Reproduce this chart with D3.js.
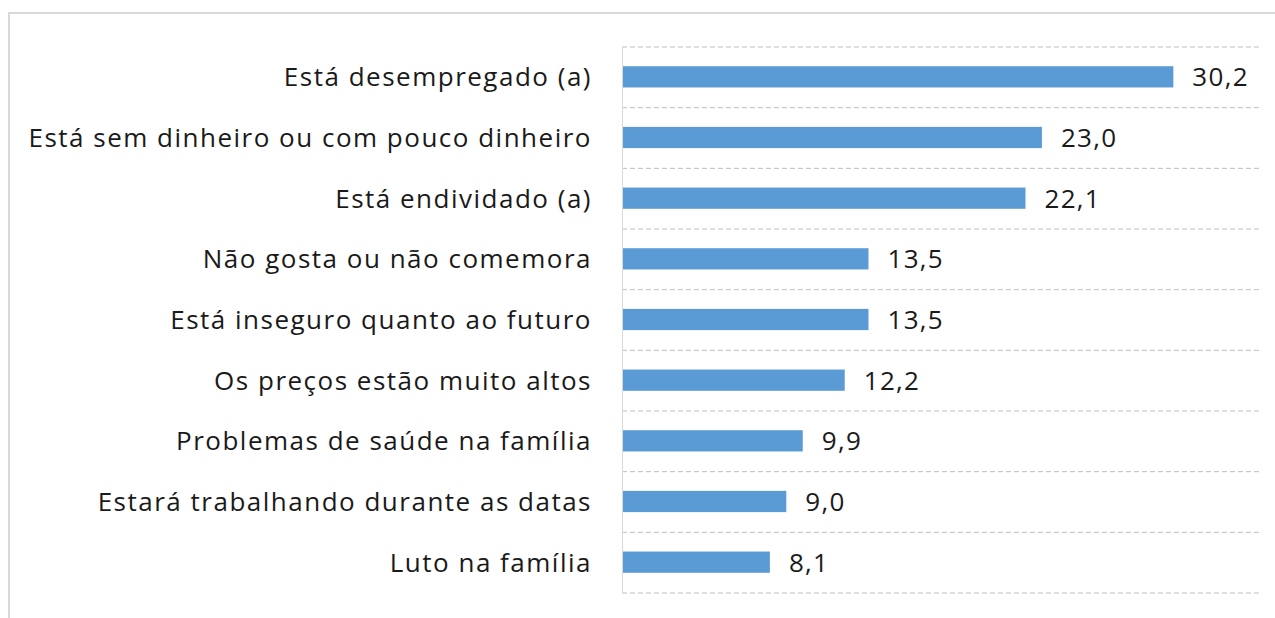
<html>
<head>
  <title></title>
  <style>
    body { margin: 0; background: #fff; }
    text { font-family: 'Open Sans', 'Noto Sans', sans-serif; fill: #1a1a1a; letter-spacing: 1.5px; }
  </style>
</head>
<body>
<script src='https://cdn.jsdelivr.net/npm/d3@7/dist/d3.min.js'></script>
<script>
var categories = ['Está desempregado (a)', 'Está sem dinheiro ou com pouco dinheiro', 'Está endividado (a)',
  'Não gosta ou não comemora', 'Está inseguro quanto ao futuro', 'Os preços estão muito altos',
  'Problemas de saúde na família', 'Estará trabalhando durante as datas', 'Luto na família']
var values = [30.2, 23.0, 22.1, 13.5, 13.5, 12.2, 9.9, 9.0, 8.1]

var width = 1275
var height = 618
var padding = {top: 46.5, right: 14, bottom: 25.5, left: 622}

var svg = d3.select('body')
  .append('svg')
  .attr('width', width)
  .attr('height', height)

// chart frame
svg.append('rect')
  .attr('x', 9).attr('y', 13)
  .attr('width', width).attr('height', height)
  .attr('fill', 'none')
  .attr('stroke', '#d9d9d9')
  .attr('stroke-width', 2)

var xScale = d3.scaleLinear()
  .domain([0, 35])
  .range([padding.left, width - padding.right])

var yScale = d3.scaleBand()
  .domain(categories)
  .range([padding.top, height - padding.bottom])
  .paddingInner(0.65)
  .paddingOuter(0.325)

var step = yScale.step()

// dashed gridlines at band boundaries
svg.selectAll('line.grid')
  .data(d3.range(categories.length + 1))
  .enter()
  .append('line')
  .attr('class', 'grid')
  .attr('x1', xScale(0))
  .attr('x2', xScale(35))
  .attr('y1', function(i) { return padding.top + i * step + 0.5 })
  .attr('y2', function(i) { return padding.top + i * step + 0.5 })
  .attr('stroke', '#bfbfbf')
  .attr('stroke-width', 1)
  .attr('stroke-dasharray', '5,3')

// vertical axis line
svg.append('line')
  .attr('x1', xScale(0) + 0.5).attr('x2', xScale(0) + 0.5)
  .attr('y1', padding.top).attr('y2', height - padding.bottom + 1)
  .attr('stroke', '#d9d9d9')
  .attr('stroke-width', 1)

svg.selectAll('rect.bar')
  .data(values)
  .enter()
  .append('rect')
  .attr('class', 'bar')
  .attr('x', xScale(0) + 1)
  .attr('y', function(d, i) { return yScale(categories[i]) })
  .attr('width', function(d) { return xScale(d) - xScale(0) - 1 })
  .attr('height', yScale.bandwidth())
  .attr('fill', '#5b9bd5')

svg.selectAll('text.val')
  .data(values)
  .enter()
  .append('text')
  .attr('class', 'val')
  .attr('x', function(d) { return xScale(d) + 19 })
  .attr('y', function(d, i) { return yScale(categories[i]) + yScale.bandwidth() / 2 })
  .attr('dy', '0.36em')
  .style('font-size', '26px')
  .style('letter-spacing', '1.3px')
  .text(function(d) { return d.toFixed(1).replace('.', ',') })

svg.selectAll('text.cat')
  .data(categories)
  .enter()
  .append('text')
  .attr('class', 'cat')
  .attr('x', xScale(0) - 30)
  .attr('y', function(d) { return yScale(d) + yScale.bandwidth() / 2 })
  .attr('dy', '0.36em')
  .attr('text-anchor', 'end')
  .style('font-size', '26px')
  .text(function(d) { return d })
</script>
</body>
</html>
